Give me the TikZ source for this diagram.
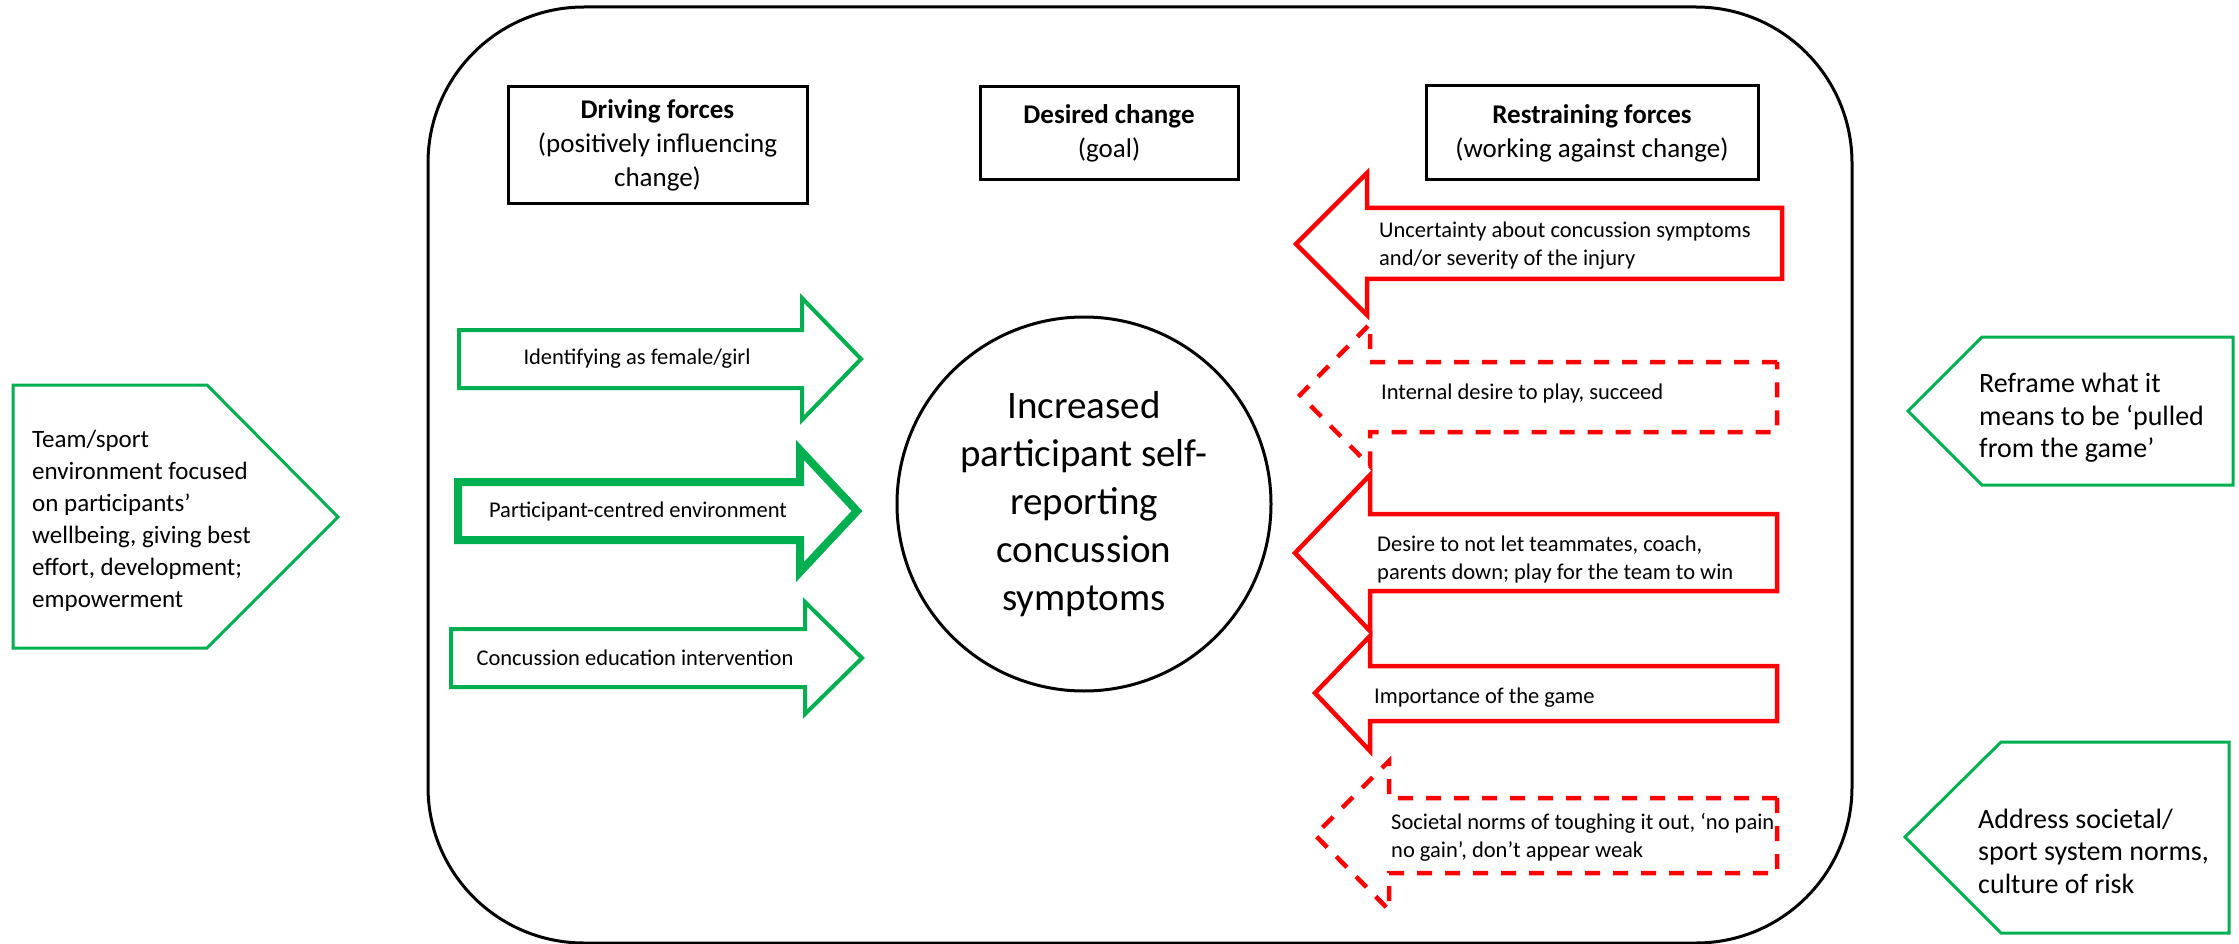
\documentclass[tikz,border=0pt]{standalone}
\usepackage{fontspec}
\setmainfont{Carlito}
\definecolor{fgreen}{HTML}{00B050}
\definecolor{fred}{HTML}{FF0000}
\begin{document}
\begin{tikzpicture}[x=1pt,y=-1pt,
  grnarrow/.style={draw=fgreen, line width=4pt, line join=miter},
  grnthick/.style={draw=fgreen, line width=8pt, line join=miter},
  redarrow/.style={draw=fred, line width=4.5pt, line join=miter},
  reddash/.style={draw=fred, line width=4.5pt, line join=miter, dash pattern=on 15pt off 13pt},
  pent/.style={draw=fgreen, line width=3pt, line join=miter},
  hdr/.style={draw=black, line width=3pt, align=center, inner sep=0pt, font=\fontsize{27}{34}\selectfont},
  arrtext/.style={inner sep=0pt, align=center, font=\fontsize{22.5}{28}\selectfont},
  redtext/.style={inner sep=0pt, align=left, anchor=west, font=\fontsize{22.5}{28}\selectfont},
  penttext/.style={inner sep=0pt, align=left, anchor=west, font=\fontsize{25}{32}\selectfont},
  penttextr/.style={inner sep=0pt, align=left, anchor=west, font=\fontsize{28}{32.5}\selectfont},
]
\useasboundingbox (0,0) rectangle (2239,944);

% outer rounded frame
\draw[line width=3pt, rounded corners=156pt] (428,7) rectangle (1852,943);

% header boxes
\node[hdr, minimum width=299pt, minimum height=117pt] (driving) at (657.5,145.5)
  {\textbf{Driving forces}\\(positively influencing\\change)};
\node[hdr, minimum width=258pt, minimum height=93pt] (desired) at (1109,133.5)
  {\textbf{Desired change}\\(goal)};
\node[hdr, minimum width=332pt, minimum height=94pt] (restraining) at (1592,133)
  {\textbf{Restraining forces}\\(working against change)};

% central goal
\node[draw=black, line width=3pt, circle, minimum size=374pt, inner sep=0pt, align=center,
  font=\fontsize{39}{48}\selectfont] (goal) at (1084,504)
  {Increased\\participant self-\\reporting\\concussion\\symptoms};

% driving forces arrows
\draw[grnarrow] (459,330) -- (802,330) -- (802,298) -- (861,359) -- (802,420) -- (802,388) -- (459,388) -- cycle;
\node[arrtext] (d1) at (637,359) {Identifying as female/girl};
\draw[grnthick] (458,482) -- (800,482) -- (800,450) -- (857,511) -- (800,572) -- (800,540) -- (458,540) -- cycle;
\node[arrtext] (d2) at (638,511) {Participant-centred environment};
\draw[grnarrow] (451,629) -- (805,629) -- (805,602) -- (862,658) -- (805,714) -- (805,687) -- (451,687) -- cycle;
\node[arrtext] (d3) at (635,658) {Concussion education intervention};

% restraining forces arrows
\draw[redarrow] (1782,208) -- (1367,208) -- (1367,173) -- (1296,244) -- (1367,315) -- (1367,279) -- (1782,279) -- cycle;
\node[redtext] (r1) at (1379,246) {Uncertainty about concussion symptoms\\and/or severity of the injury};
\draw[reddash] (1777,362) -- (1370,362) -- (1370,324) -- (1300,395) -- (1370,466) -- (1370,432) -- (1777,432) -- cycle;
\node[redtext] (r2) at (1381,394) {Internal desire to play, succeed};
\draw[redarrow] (1777,514) -- (1370,514) -- (1370,475) -- (1295,553) -- (1370,631) -- (1370,591) -- (1777,591) -- cycle;
\node[redtext] (r3) at (1377,559) {Desire to not let teammates, coach,\\parents down; play for the team to win};
\draw[redarrow] (1777,666) -- (1370,666) -- (1370,636) -- (1315,693) -- (1370,751) -- (1370,721) -- (1777,721) -- cycle;
\node[redtext] (r4) at (1374,698) {Importance of the game};
\draw[reddash] (1777,798) -- (1389,798) -- (1389,761) -- (1315,835) -- (1389,910) -- (1389,873) -- (1777,873) -- cycle;
\node[redtext] (r5) at (1391,837) {Societal norms of toughing it out, ‘no pain\\no gain’, don’t appear weak};

% pentagons
\draw[pent] (13,385) -- (207,385) -- (338,517) -- (207,648) -- (13,648) -- cycle;
\node[penttext] (left) at (32,521) {Team/sport\\environment focused\\on participants’\\wellbeing, giving best\\effort, development;\\empowerment};
\draw[pent] (1908,411) -- (1982,337) -- (2233,337) -- (2233,485) -- (1982,485) -- cycle;
\node[penttextr] (right1) at (1979,418) {Reframe what it\\means to be ‘pulled\\from the game’};
\draw[pent] (1905,837) -- (2001,742) -- (2229,742) -- (2229,933) -- (2001,933) -- cycle;
\node[penttextr] (right2) at (1978,851) {Address societal/\\sport system norms,\\culture of risk};
\end{tikzpicture}
\end{document}
